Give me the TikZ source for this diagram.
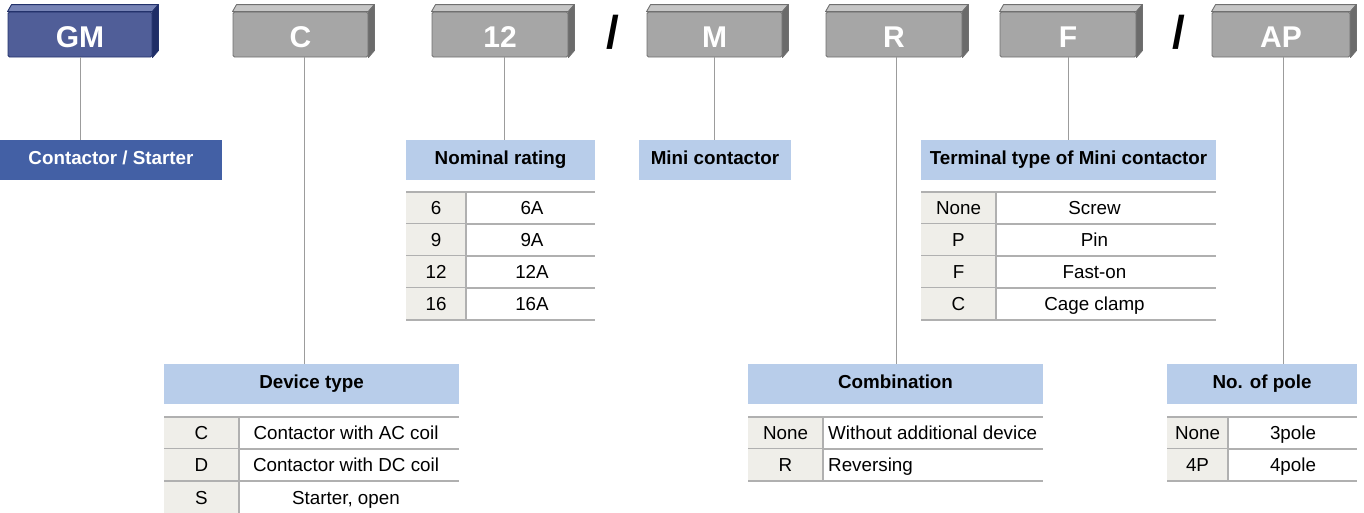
\documentclass[tikz,border=0pt]{standalone}
\usepackage{fontspec}
\setmainfont{Liberation Sans}
\definecolor{navyF}{HTML}{505E98}
\definecolor{navyT}{HTML}{7683B5}
\definecolor{navyS}{HTML}{1F2D66}
\definecolor{navyB}{HTML}{23326B}
\definecolor{grayF}{HTML}{A6A6A6}
\definecolor{grayT}{HTML}{C6C6C6}
\definecolor{grayS}{HTML}{6B6B6B}
\definecolor{grayB}{HTML}{707070}
\definecolor{csblue}{HTML}{4360A5}
\definecolor{hdrblue}{HTML}{B8CDEA}
\definecolor{cellL}{HTML}{EFEEE9}
\definecolor{rulec}{HTML}{B0B0B0}
\definecolor{connc}{HTML}{9C9C9C}
\tikzset{
  codenode/.style={minimum width=#1, minimum height=45pt, inner sep=0pt,
    text height=25.5pt, text depth=0pt,
    font=\fontsize{30}{30}\selectfont\bfseries, text=white,
    rounded corners=1.5pt, line width=0.9pt},
  hdrnode/.style={minimum width=#1, minimum height=40pt, inner sep=0pt,
    text height=13.4pt, text depth=5pt, fill=hdrblue,
    font=\fontsize{18.8}{20}\selectfont\bfseries},
  celltxt/.style={inner sep=0pt, font=\fontsize{18.8}{20}\selectfont},
  ruleline/.style={draw=rulec, line width=1.2pt},
  connline/.style={draw=connc, line width=1pt},
  slashtxt/.style={inner sep=0pt, font=\fontsize{46}{46}\selectfont\bfseries}
}
\newcommand\codebox[5]{%
  \node[codenode={#3pt}, fill=#5F, draw=#5B] (#1) at (#2,34.5) {#4};
  \filldraw[fill=#5T, draw=#5B, line width=0.9pt, line join=round]
    (#1.north west) -- ++(4,-7) -- ([xshift=6pt,yshift=7pt]#1.north east) -- (#1.north east) -- cycle;
  \filldraw[fill=#5S, draw=#5B, line width=0.9pt, line join=round]
    (#1.north east) -- ([xshift=6pt,yshift=7pt]#1.north east) -- ([xshift=6pt,yshift=7pt]#1.south east) -- (#1.south east) -- cycle;
}
\newcommand\trow[9]{%
  \fill[cellL] (#2,#5) rectangle (#3,{#5+32});
  \draw[ruleline] (#2,{#5+32}) -- (#4,{#5+32});
  \draw[ruleline] (#3,#5) -- (#3,{#5+32});
  \node[celltxt, anchor=base] (#1a) at ({(#2+#3)/2},{#5+16+6.7}) {#6};
  \node[celltxt, anchor=#9] (#1b) at (#8,{#5+16+6.7}) {#7};
}
\begin{document}
\begin{tikzpicture}[x=1pt,y=-1pt]
\useasboundingbox (0,0) rectangle (1364,512);

% code boxes
\codebox{gm}{80}{144}{GM}{navy}
\codebox{c}{300.5}{135}{C}{gray}
\codebox{tw}{500}{136}{12}{gray}
\codebox{m}{714.5}{135}{M}{gray}
\codebox{r}{894}{136}{R}{gray}
\codebox{f}{1068}{136}{F}{gray}
\codebox{ap}{1281}{138}{AP}{gray}
\node[slashtxt, anchor=base] (sl1) at (612.5,48) {/};
\node[slashtxt, anchor=base] (sl2) at (1178.5,48) {/};

% header nodes
\node[minimum width=222pt, minimum height=40pt, inner sep=0pt, fill=csblue,
  text=white, text height=13.4pt, text depth=5pt,
  font=\fontsize{18.8}{20}\selectfont\bfseries] (cs) at (111,160) {Contactor / Starter};
\node[hdrnode=189pt] (nom) at (500.5,160) {Nominal rating};
\node[hdrnode=152pt] (mini) at (715,160) {Mini contactor};
\node[hdrnode=295pt] (term) at (1068.5,160) {Terminal type of Mini contactor};
\node[hdrnode=295pt] (dev) at (311.5,384) {Device type};
\node[hdrnode=295pt] (comb) at (895.5,384) {Combination};
\node[hdrnode=190pt] (pole) at (1262,384) {No. of pole};

% connectors
\draw[connline] (gm.south) -- (gm.south |- cs.north);
\draw[connline] ([xshift=4pt]c.south) -- ([xshift=4pt]c.south |- dev.north);
\draw[connline] ([xshift=4pt]tw.south) -- ([xshift=4pt]tw.south |- nom.north);
\draw[connline] (m.south) -- (m.south |- mini.north);
\draw[connline] ([xshift=2pt]r.south) -- ([xshift=2pt]r.south |- comb.north);
\draw[connline] (f.south) -- (f.south |- term.north);
\draw[connline] ([xshift=2pt]ap.south) -- ([xshift=2pt]ap.south |- pole.north);

% Nominal rating table
\trow{nA}{406}{466}{595}{192}{6}{6A}{532}{base}
\trow{nB}{406}{466}{595}{224}{9}{9A}{532}{base}
\trow{nC}{406}{466}{595}{256}{12}{12A}{532}{base}
\trow{nD}{406}{466}{595}{288}{16}{16A}{532}{base}
\draw[ruleline] (406,192) -- (595,192);

% Terminal type table
\trow{tA}{921}{996}{1216}{192}{None}{Screw}{1094.5}{base}
\trow{tB}{921}{996}{1216}{224}{P}{Pin}{1094.5}{base}
\trow{tC}{921}{996}{1216}{256}{F}{Fast-on}{1094.5}{base}
\trow{tD}{921}{996}{1216}{288}{C}{Cage clamp}{1094.5}{base}
\draw[ruleline] (921,192) -- (1216,192);

% Device type table
\trow{dA}{164}{239}{459}{417}{C}{Contactor with AC coil}{346}{base}
\trow{dB}{164}{239}{459}{449}{D}{Contactor with DC coil}{346}{base}
\trow{dC}{164}{239}{459}{482}{S}{Starter, open}{346}{base}
\draw[ruleline] (164,417) -- (459,417);

% Combination table
\trow{cA}{748}{823}{1043}{417}{None}{Without additional device}{828}{base west}
\trow{cB}{748}{823}{1043}{449}{R}{Reversing}{828}{base west}
\draw[ruleline] (748,417) -- (1043,417);

% No. of pole table
\trow{pA}{1167}{1228}{1357}{417}{None}{3pole}{1293}{base}
\trow{pB}{1167}{1228}{1357}{449}{4P}{4pole}{1293}{base}
\draw[ruleline] (1167,417) -- (1357,417);
\end{tikzpicture}
\end{document}
